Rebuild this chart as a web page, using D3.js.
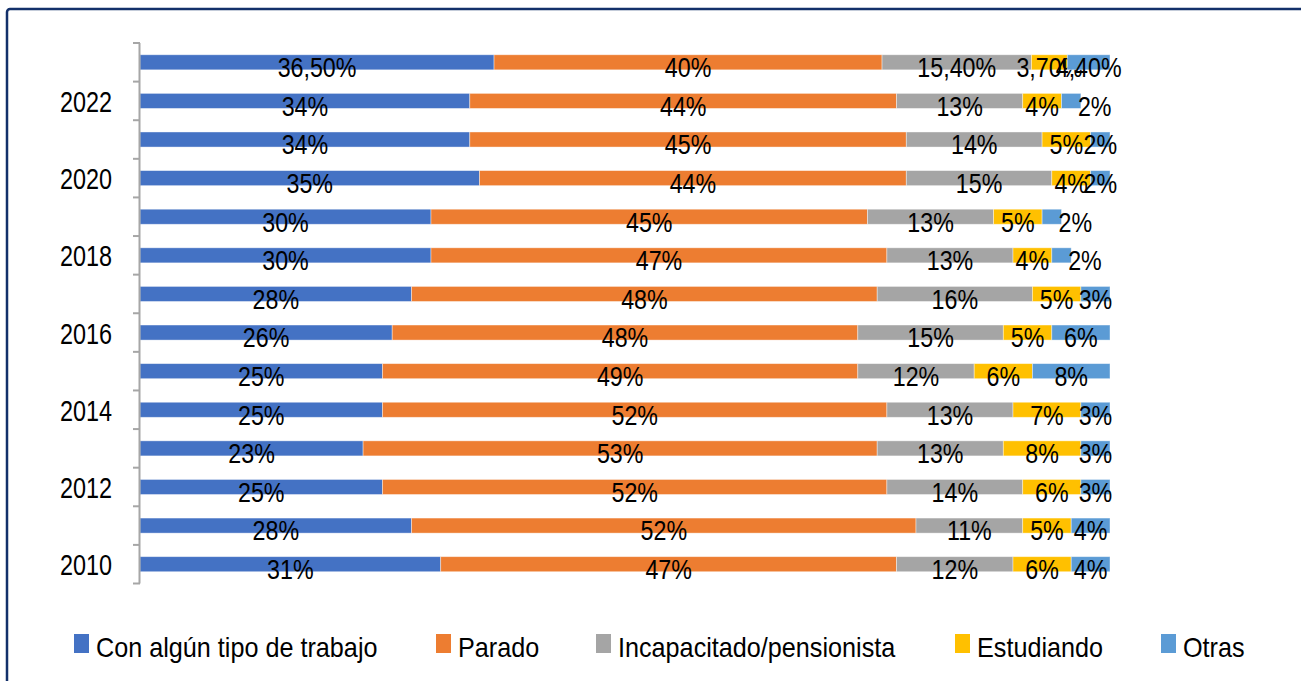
<!DOCTYPE html>
<html>
<head>
<meta charset="utf-8">
<script src="https://cdn.jsdelivr.net/npm/d3@7"></script>
<style>
  body { margin: 0; background: #fff; }
  svg text { font-family: "Liberation Sans", Arial, sans-serif; fill: #000; }
</style>
</head>
<body>
<div id="chart"></div>
<script>
const width = 1301;
const height = 681;

// data, top row first
const years = ['2023', '2022', '2021', '2020', '2019', '2018', '2017', '2016', '2015', '2014', '2013', '2012', '2011', '2010'];
const trabajo = [36.5, 34, 34, 35, 30, 30, 28, 26, 25, 25, 23, 25, 28, 31];
const parado = [40, 44, 45, 44, 45, 47, 48, 48, 49, 52, 53, 52, 52, 47];
const incapacitado = [15.4, 13, 14, 15, 13, 13, 16, 15, 12, 13, 13, 14, 11, 12];
const estudiando = [3.7, 4, 5, 4, 5, 4, 5, 5, 6, 7, 8, 6, 5, 6];
const otras = [4.4, 2, 2, 2, 2, 2, 3, 6, 8, 3, 3, 3, 4, 4];
const yearTicks = ['2022', '2020', '2018', '2016', '2014', '2012', '2010'];

const seriesNames = ['Con algún tipo de trabajo', 'Parado', 'Incapacitado/pensionista', 'Estudiando', 'Otras'];
const seriesValues = [trabajo, parado, incapacitado, estudiando, otras];
const seriesColors = ['#4472C4', '#ED7D31', '#A5A5A5', '#FFC000', '#5B9BD5'];

function fmt(v){
    if(Number.isInteger(v)) return v + '%';
    return v.toFixed(2).replace('.', ',') + '%';
}

// narrow text: the original uses a condensed font
function narrow(x, y, s){
    return 'translate(' + x + ',' + y + ') scale(' + s + ',1)';
}

var svg = d3.select('#chart')
            .append('svg')
            .attr('width', width)
            .attr('height', height);

// outer frame
svg.append('rect')
    .attr('x', 7).attr('y', 9)
    .attr('width', width + 20).attr('height', height + 20)
    .attr('rx', 3)
    .attr('fill', 'none')
    .attr('stroke', '#13306A')
    .attr('stroke-width', 2.5);

var xScale = d3.scaleLinear()
                .domain([0, 100])
                .range([140, 1110]);
var yScale = d3.scaleBand()
                .domain(years)
                .range([43, 583.5])
                .paddingInner(0.61)
                .paddingOuter(0.305);
var band = d3.scaleBand().domain(years).range([43, 583.5]);

// stack rows
let rows = years.map(function(y, i){
    let row = {year: y};
    seriesNames.forEach(function(s, k){ row[s] = seriesValues[k][i]; });
    return row;
});
var stack = d3.stack().keys(seriesNames)(rows);
var lastKey = seriesNames[seriesNames.length - 1];

var groups = svg.append('g')
    .selectAll('g')
    .data(stack)
    .enter()
    .append('g')
    .attr('fill', function(d, i){ return seriesColors[i]; });

groups.selectAll('rect')
    .data(function(d){ return d; })
    .enter()
    .append('rect')
    .attr('x', function(d){ return xScale(d[0]); })
    .attr('y', function(d){ return yScale(d.data.year); })
    .attr('width', function(d){ return xScale(d[1]) - xScale(d[0]); })
    .attr('height', yScale.bandwidth())
    .attr('stroke', '#fff')
    .attr('stroke-opacity', 0.5)
    .attr('stroke-width', 0.8);

// short rows: the small last label sits just past the bar end
function outside(d){
    return d.key === lastKey && d.p[1] < 97.5 && (xScale(d.p[1]) - xScale(d.p[0])) < 25;
}

groups.selectAll('text')
    .data(function(d){ return d.map(function(p){ return {p: p, key: d.key}; }); })
    .enter()
    .append('text')
    .attr('transform', function(d){
        let x = outside(d) ? xScale(d.p[1]) - 3 : (xScale(d.p[0]) + xScale(d.p[1])) / 2;
        let y = yScale(d.p.data.year) + yScale.bandwidth() / 2 + 5;
        return narrow(x, y, 0.83);
    })
    .attr('text-anchor', function(d){ return outside(d) ? 'start' : 'middle'; })
    .attr('dominant-baseline', 'central')
    .attr('font-size', 28)
    .style('fill', '#000')
    .text(function(d){ return fmt(d.p.data[d.key]); });

// y axis
var axis = svg.append('g');
axis.append('line')
    .attr('x1', 139.5).attr('x2', 139.5)
    .attr('y1', 43).attr('y2', 583.5)
    .attr('stroke', '#A6A6A6').attr('stroke-width', 2);
axis.selectAll('.tick')
    .data(years.concat(['end']))
    .enter()
    .append('line')
    .attr('x1', 133).attr('x2', 140)
    .attr('y1', function(d){ return d === 'end' ? 583.5 : band(d); })
    .attr('y2', function(d){ return d === 'end' ? 583.5 : band(d); })
    .attr('stroke', '#A6A6A6').attr('stroke-width', 2);
axis.selectAll('.ylabel')
    .data(yearTicks)
    .enter()
    .append('text')
    .attr('transform', function(d){ return narrow(112, band(d) + band.bandwidth() / 2 + 1, 0.78); })
    .attr('text-anchor', 'end')
    .attr('dominant-baseline', 'central')
    .attr('font-size', 30)
    .text(function(d){ return d; });

// legend
const legendX = [74, 436, 596, 955, 1161];
var legend = svg.append('g')
    .selectAll('g')
    .data(seriesNames)
    .enter()
    .append('g')
    .attr('transform', function(d, i){ return 'translate(' + legendX[i] + ',634)'; });
legend.append('rect')
    .attr('width', 15).attr('height', 19)
    .attr('fill', function(d, i){ return seriesColors[i]; });
legend.append('text')
    .attr('transform', narrow(22, 14, 0.9))
    .attr('dominant-baseline', 'central')
    .attr('font-size', 28)
    .text(function(d){ return d; });
</script>
</body>
</html>
